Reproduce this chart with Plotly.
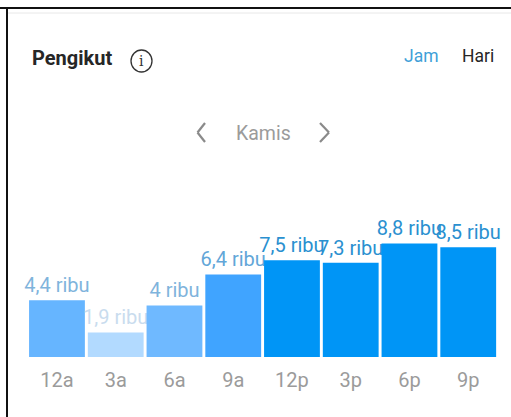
import plotly.graph_objects as go

categories = ["12a", "3a", "6a", "9a", "12p", "3p", "6p", "9p"]
values = [4.4, 1.9, 4.0, 6.4, 7.5, 7.3, 8.8, 8.5]
labels = ["4,4 ribu", "1,9 ribu", "4 ribu", "6,4 ribu", "7,5 ribu", "7,3 ribu", "8,8 ribu", "8,5 ribu"]
bar_colors = ["#66b5ff", "#b2daff", "#6fb9ff", "#40a4ff", "#0095f6", "#0095f6", "#0095f6", "#0095f6"]
text_colors = ["#7fb4dc", "#c9dcee", "#7fb4dc", "#62a6d8", "#2a90d0", "#2a90d0", "#2a90d0", "#2a90d0"]

W, H = 511, 417
FONT = "Roboto"

fig = go.Figure(go.Bar(
    x=categories, y=values, marker=dict(color=bar_colors, line=dict(width=0)),
    text=labels, textposition="outside", cliponaxis=False, constraintext="none",
    textfont=dict(family=FONT, size=20, color=text_colors),
    hoverinfo="skip", width=0.95,
))

def px(x): return x / W
def py(y): return 1 - y / H

def line(x0, y0, x1, y1, color, width):
    return dict(type="line", xref="paper", yref="paper", x0=px(x0), x1=px(x1), y0=py(y0), y1=py(y1),
                line=dict(color=color, width=width))

def note(text, x, y, size, color, family=FONT, xanchor="center"):
    return dict(text=text, x=px(x), y=py(y), xref="paper", yref="paper", showarrow=False,
                xanchor=xanchor, yanchor="middle", font=dict(family=family, size=size, color=color))

fig.update_layout(
    width=W, height=H, autosize=False, showlegend=False,
    paper_bgcolor="white", plot_bgcolor="white",
    margin=dict(l=0, r=0, t=0, b=0), bargap=0.05,
    xaxis=dict(domain=[px(27.6), px(497.6)], range=[-0.5, 7.5], type="category",
               showgrid=False, zeroline=False, showline=False, ticks="", ticklabelstandoff=9,
               tickfont=dict(family=FONT, size=20, color="#9b9b9b")),
    yaxis=dict(domain=[py(357), py(200)], range=[0, 12.17], visible=False),
    shapes=[
        line(0, 8, 511, 8, "#111111", 2),
        line(7, 7, 7, 417, "#111111", 2),
        line(8, 13, 511, 13, "#e8e8e8", 1),
        dict(type="circle", xref="paper", yref="paper", x0=px(131), x1=px(152), y0=py(50), y1=py(72),
             line=dict(color="#333333", width=1.3)),
        line(205, 123, 197.5, 132.5, "#8a8a8a", 2.2),
        line(197.5, 132.5, 205, 142, "#8a8a8a", 2.2),
        line(320, 123, 329, 132.5, "#8a8a8a", 2.2),
        line(329, 132.5, 320, 142, "#8a8a8a", 2.2),
    ],
    annotations=[
        note("<b>Pengikut</b>", 30, 58, 20, "#262626", xanchor="left"),
        note("i", 141.5, 61, 14, "#333333", family="DejaVu Serif"),
        note("Jam", 421, 56, 17.5, "#3f9fd8"),
        note("Hari", 478, 56, 17.5, "#262626"),
        note("Kamis", 263, 133, 19.5, "#9b9b9b"),
    ],
)
fig.write_html("out.html", config=dict(displayModeBar=False),
               post_script="document.body.style.margin='0';")
